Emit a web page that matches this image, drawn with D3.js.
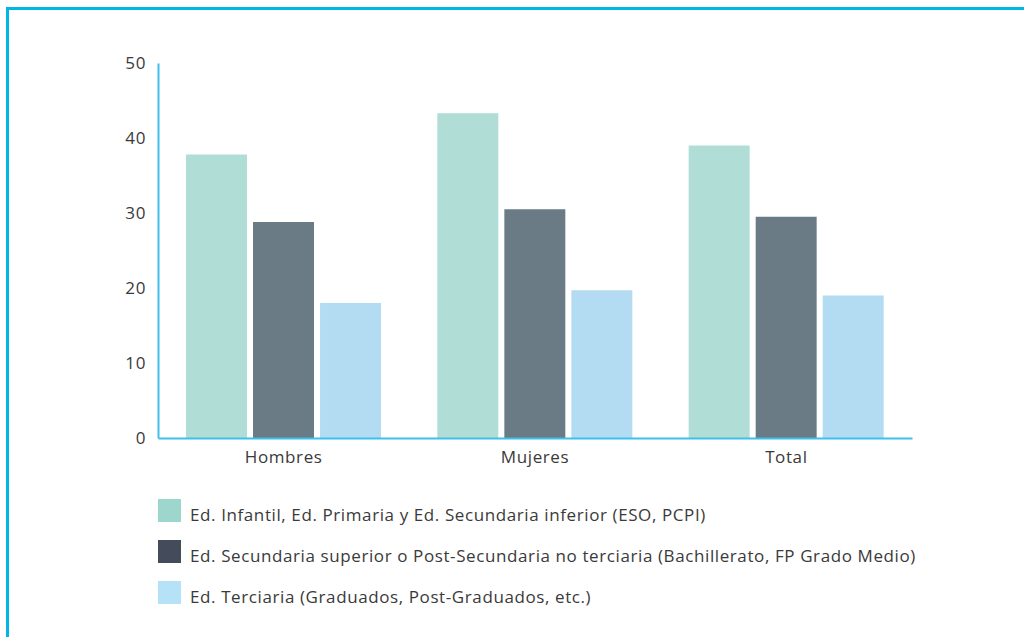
<!DOCTYPE html>
<html>
<head>
<meta charset="utf-8">
<script src="https://cdn.jsdelivr.net/npm/d3@7.9.0/dist/d3.min.js"></script>
<style>
  body { margin: 0; background: #fff; }
  svg { display: block; font-family: 'Open Sans', sans-serif; }
</style>
</head>
<body>
<svg id="chart" width="1024" height="637"></svg>
<script>
// data
const categories = ['Hombres', 'Mujeres', 'Total'];
const seriesNames = [
  'Ed. Infantil, Ed. Primaria y Ed. Secundaria inferior (ESO, PCPI)',
  'Ed. Secundaria superior o Post-Secundaria no terciaria (Bachillerato, FP Grado Medio)',
  'Ed. Terciaria (Graduados, Post-Graduados, etc.)'
];
const infantilValues = [37.8, 43.3, 39.0];
const secundariaValues = [28.8, 30.5, 29.5];
const terciariaValues = [18.0, 19.7, 19.0];
const yTicks = [0, 10, 20, 30, 40, 50];

const barColors = ['#b0ddd5', '#6a7b86', '#b3dcf3'];
const swatchColors = ['#9dd6cc', '#444b5a', '#b5e2f7'];
const series = [infantilValues, secundariaValues, terciariaValues];

const svg = d3.select('#chart');

// frame (left + top)
svg.append('path')
  .attr('d', 'M7.5,637 V8.5 H1024')
  .attr('fill', 'none')
  .attr('stroke', '#00b5e8')
  .attr('stroke-width', 3);

const x0 = d3.scaleBand().domain(categories).range([158, 912]).paddingInner(0).paddingOuter(0);
const x1 = d3.scaleBand().domain(d3.range(series.length)).range([28, 223]).paddingInner(0.09);
const y = d3.scaleLinear().domain([0, 50]).range([438, 63]);

// bars
categories.forEach((cat, ci) => {
  const g = svg.append('g').attr('transform', `translate(${x0(cat)},0)`);
  series.forEach((vals, si) => {
    g.append('rect')
      .attr('x', x1(si))
      .attr('y', y(vals[ci]))
      .attr('width', x1.bandwidth())
      .attr('height', y(0) - y(vals[ci]))
      .attr('fill', barColors[si]);
  });
});

const styleText = (sel) => sel
  .attr('font-size', 17)
  .attr('letter-spacing', 0.6)
  .attr('fill', '#3a3a3a')
  .attr('font-family', 'Open Sans');

// y axis
const yAxis = svg.append('g').attr('transform', 'translate(158,0)')
  .call(d3.axisLeft(y).tickValues(yTicks).tickSize(0).tickPadding(12));
yAxis.select('.domain').attr('stroke', '#3fc0ec').attr('stroke-width', 2);
yAxis.selectAll('text').call(styleText);

// x axis
const xAxis = svg.append('g').attr('transform', 'translate(0,438)')
  .call(d3.axisBottom(x0).tickSize(0).tickPadding(13));
xAxis.select('.domain').attr('stroke', '#3fc0ec').attr('stroke-width', 2);
xAxis.selectAll('text').call(styleText);

// legend
const legend = svg.append('g');
seriesNames.forEach((name, i) => {
  const row = legend.append('g').attr('transform', `translate(158,${499 + i * 41})`);
  row.append('rect').attr('width', 23).attr('height', 23).attr('fill', swatchColors[i]);
  row.append('text')
    .attr('x', 32).attr('y', 22)
    .text(name)
    .call(styleText);
});
</script>
</body>
</html>
